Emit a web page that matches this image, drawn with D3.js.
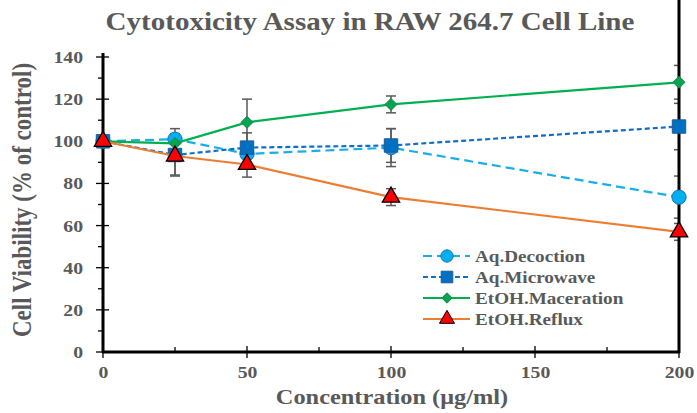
<!DOCTYPE html>
<html><head><meta charset="utf-8">
<script src="https://cdn.jsdelivr.net/npm/d3@7"></script>
<style>body{margin:0;background:#fff}svg{display:block}text{font-family:"Liberation Serif","Times New Roman",serif;font-weight:bold;fill:#595959}</style>
</head><body><svg id="c" width="697" height="413"></svg>
<script>
const concentrations = [0, 25, 50, 100, 200];
const seriesNames = ["Aq.Decoction", "Aq.Microwave", "EtOH.Maceration", "EtOH.Reflux"];
const decoction = [100, 101, 94, 97, 73.5];
const decoctionErr = [1, 5, 5, 9, 10];
const microwave = [100, 93.5, 97, 98, 107];
const microwaveErr = [1, 10, 7, 8, 11];
const maceration = [100, 99, 109, 117.5, 128];
const macerationErr = [1, 3, 11, 4, 8];
const reflux = [100, 93, 89, 73.5, 57];
const refluxErr = [1, 9, 6, 4, 4];
const xTicks = [0, 50, 100, 150, 200];
const yTicks = [0, 20, 40, 60, 80, 100, 120, 140];

const SX = 1.16; // horizontal stretch of the reference typography
const FONT = "Liberation Serif, Times New Roman, serif";
const svg = d3.select("#c");
const x = d3.scaleLinear().domain([0, 200]).range([103, 679]);
const y = d3.scaleLinear().domain([0, 140]).range([352, 57]);

function stretch(sel) {
  sel.each(function () {
    const w = this.getComputedTextLength();
    d3.select(this).attr("textLength", w * SX).attr("lengthAdjust", "spacingAndGlyphs");
  });
}

svg.append("text").attr("x", 370).attr("y", 30).attr("text-anchor", "middle")
  .style("font-size", "25px").text("Cytotoxicity Assay in RAW 264.7 Cell Line").call(stretch);

svg.append("defs").append("clipPath").attr("id", "plot")
  .append("rect").attr("x", 0).attr("y", 0).attr("width", 679).attr("height", 413);

// axes
const yAx = svg.append("g").attr("transform", "translate(103,0)")
  .call(d3.axisLeft(y).tickValues(yTicks).tickSize(0).tickPadding(20));
yAx.select(".domain").remove();
yAx.selectAll("text").style("font-size", "17px").style("fill", "#595959")
  .style("font-family", FONT).call(stretch);
const xAx = svg.append("g").attr("transform", "translate(0,352)")
  .call(d3.axisBottom(x).tickValues(xTicks).tickSize(0).tickPadding(14));
xAx.select(".domain").remove();
xAx.selectAll("text").style("font-size", "17px").style("fill", "#595959")
  .style("font-family", FONT).call(stretch);

// ticks
const g = svg.append("g").attr("stroke", "#000");
d3.range(0, 141, 10).forEach(v => {
  const major = v % 20 === 0;
  g.append("line").attr("x1", major ? 96 : 98).attr("x2", major ? 109 : 103)
    .attr("y1", y(v)).attr("y2", y(v)).attr("stroke-width", 1.3);
});
d3.range(0, 201, 25).forEach(v => {
  const major = v % 50 === 0;
  g.append("line").attr("x1", x(v)).attr("x2", x(v))
    .attr("y1", major ? 346 : 347).attr("y2", major ? 358 : 352).attr("stroke-width", 1.3);
});

// axis titles
svg.append("text").attr("x", 392).attr("y", 404).attr("text-anchor", "middle")
  .style("font-size", "21px").text("Concentration (μg/ml)").call(stretch);
svg.append("text").attr("transform", "translate(31,200) scale(1.16,1) rotate(-90)").attr("text-anchor", "middle")
  .style("font-size", "23px").text("Cell Viability (% of control)");

const series = [
  {name: seriesNames[0], vals: decoction, err: decoctionErr, color: "#1aaee8", dash: "9,5", marker: "circle", fill: "#00b0f0", stroke: "#1f6fb0"},
  {name: seriesNames[1], vals: microwave, err: microwaveErr, color: "#0f6fc6", dash: "5,3", marker: "square", fill: "#0070c0", stroke: "#1f5a9a"},
  {name: seriesNames[2], vals: maceration, err: macerationErr, color: "#00b050", dash: null, marker: "diamond", fill: "#00a550", stroke: "#2e7d4f"},
  {name: seriesNames[3], vals: reflux, err: refluxErr, color: "#ed7d31", dash: null, marker: "triangle", fill: "#ff0000", stroke: "#000"}
];
const diamondSym = {draw(ctx, size) { const r = Math.sqrt(size / 2); ctx.moveTo(0, -r); ctx.lineTo(r, 0); ctx.lineTo(0, r); ctx.lineTo(-r, 0); ctx.closePath(); }};
const symType = {circle: d3.symbolCircle, square: d3.symbolSquare, diamond: diamondSym, triangle: d3.symbolTriangle};
const symSize = {circle: 160, square: 180, diamond: 72, triangle: 130};

// error bars
series.forEach(s => {
  const eg = svg.append("g").attr("stroke", "#595959").attr("stroke-width", 1.5).attr("clip-path", "url(#plot)");
  concentrations.forEach((c, i) => {
    const cx = x(c), y1 = y(s.vals[i] + s.err[i]), y2 = y(s.vals[i] - s.err[i]);
    eg.append("line").attr("x1", cx).attr("x2", cx).attr("y1", y1).attr("y2", y2);
    eg.append("line").attr("x1", cx - 5).attr("x2", cx + 5).attr("y1", y1).attr("y2", y1);
    eg.append("line").attr("x1", cx - 5).attr("x2", cx + 5).attr("y1", y2).attr("y2", y2);
  });
});

g.raise();
g.append("line").attr("x1", 103).attr("x2", 103).attr("y1", 53).attr("y2", 353).attr("stroke-width", 3);
g.append("line").attr("x1", 102).attr("x2", 680).attr("y1", 352).attr("y2", 352).attr("stroke-width", 3);
g.append("line").attr("x1", 679).attr("x2", 679).attr("y1", 0).attr("y2", 353).attr("stroke-width", 3);

const line = d3.line().x((d, i) => x(concentrations[i])).y(d => y(d));
series.forEach(s => {
  svg.append("path").datum(s.vals).attr("d", line).attr("fill", "none")
    .attr("stroke", s.color).attr("stroke-width", 2.2).attr("stroke-dasharray", s.dash);
  svg.append("g").selectAll("path").data(s.vals).join("path")
    .attr("transform", (d, i) => `translate(${x(concentrations[i])},${y(d)})`)
    .attr("d", d3.symbol().type(symType[s.marker]).size(symSize[s.marker]))
    .attr("fill", s.fill).attr("stroke", s.stroke).attr("stroke-width", s.marker === "triangle" ? 1.3 : 1);
});

// legend
const leg = svg.append("g");
series.forEach((s, i) => {
  const ly = 256 + i * 21;
  leg.append("line").attr("x1", 423).attr("x2", 470).attr("y1", ly).attr("y2", ly)
    .attr("stroke", s.color).attr("stroke-width", 2.2).attr("stroke-dasharray", s.dash);
  leg.append("path").attr("transform", `translate(447,${ly})`)
    .attr("d", d3.symbol().type(symType[s.marker]).size(symSize[s.marker] * 0.75))
    .attr("fill", s.fill).attr("stroke", s.stroke).attr("stroke-width", 1);
  leg.append("text").attr("x", 475).attr("y", ly + 6).style("font-size", "16.5px").text(s.name).call(stretch);
});
</script></body></html>
